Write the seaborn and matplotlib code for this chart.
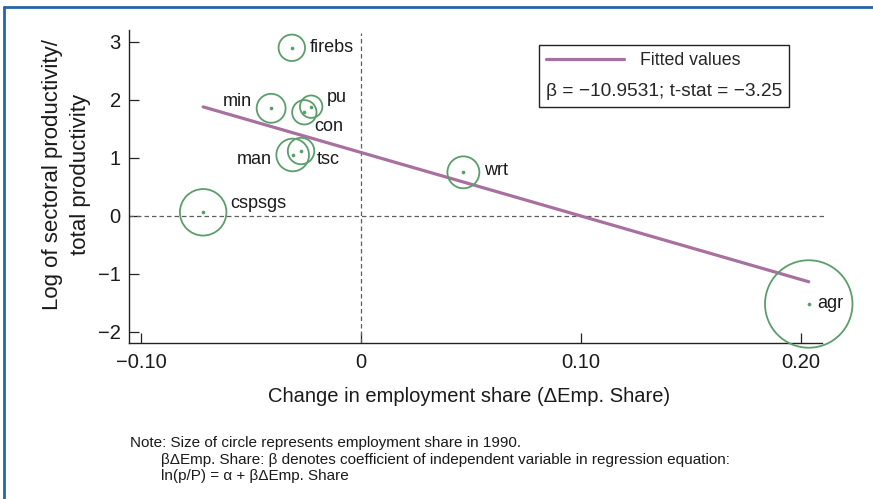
import numpy as np
import pandas as pd
import seaborn as sns
import matplotlib.pyplot as plt
from matplotlib.lines import Line2D

# sectors, change in employment share, log relative productivity, employment share 1990
sectors = ["firebs", "min", "pu", "con", "man", "tsc", "wrt", "cspsgs", "agr"]
d_emp_share = [-0.0315, -0.0409, -0.0227, -0.0258, -0.0311, -0.0273, 0.0465, -0.0718, 0.2035]
log_rel_prod = [2.90, 1.857, 1.885, 1.788, 1.052, 1.12, 0.753, 0.064, -1.517]
emp_share_1990 = [0.046, 0.055, 0.033, 0.039, 0.070, 0.046, 0.067, 0.142, 0.502]

beta = -10.9531
alpha = 1.095
t_stat = -3.25

xticks = [-0.10, 0, 0.10, 0.20]
xtick_labels = ["\u22120.10", "0", "0.10", "0.20"]
yticks = [-2, -1, 0, 1, 2, 3]
ytick_labels = ["\u22122", "\u22121", "0", "1", "2", "3"]

df = pd.DataFrame({"sector": sectors, "x": d_emp_share, "y": log_rel_prod, "share": emp_share_1990})

# label placement (offset points, alignment)
label_pos = {
    "firebs": (13, 0, "left"),
    "min": (-13.5, 5, "right"),
    "pu": (11, 6.8, "left"),
    "con": (7, -10, "left"),
    "man": (-15, -3, "right"),
    "tsc": (11.5, -6, "left"),
    "wrt": (15, 1, "left"),
    "cspsgs": (19.5, 6.5, "left"),
    "agr": (6, 0, "left"),
}

green = "#5b9e6b"
purple = "#a8709f"

sns.set_style("ticks")
plt.rcParams["font.family"] = ["Liberation Sans", "DejaVu Sans"]

fig = plt.figure(figsize=(8.73, 4.99), dpi=100)
ax = fig.add_axes([0.1478, 0.3126, 0.8, 0.6273])

# circle area proportional to employment share
K = 7900
sns.scatterplot(data=df, x="x", y="y", size="share",
                sizes=(K * df.share.min(), K * df.share.max()),
                color=green, edgecolor=green, facecolors="none",
                linewidth=1.3, legend=False, ax=ax, zorder=3, clip_on=False)
sns.scatterplot(data=df, x="x", y="y", s=7, color=green, linewidth=0,
                legend=False, ax=ax, zorder=4)

fit_x = np.array([df.x.min(), df.x.max()])
sns.lineplot(x=fit_x, y=alpha + beta * fit_x, color=purple, linewidth=2.3,
             label="Fitted values", ax=ax, zorder=2)

ax.axhline(0, color="#5e5e5e", lw=0.9, ls=(0, (3.6, 2.4)), zorder=1)
ax.axvline(0, color="#5e5e5e", lw=0.9, ls=(0, (3.6, 2.4)), ymax=0.99, zorder=1)

for _, r in df.iterrows():
    dx, dy, ha = label_pos[r.sector]
    ax.annotate(r.sector, (r.x, r.y), xytext=(dx, dy), textcoords="offset points",
                ha=ha, va="center", fontsize=13, color="#1a1a1a")

ax.set_xlim(-0.1055, 0.212)
ax.set_ylim(-2.19, 3.207)
ax.spines["bottom"].set_bounds(-0.1055, 0.2095)
sns.despine(ax=ax)
for s in ["left", "bottom"]:
    ax.spines[s].set_color("#222222")
    ax.spines[s].set_linewidth(1.0)

ax.set_xticks(xticks, xtick_labels)
ax.set_yticks(yticks, ytick_labels)
ax.tick_params(axis="both", direction="in", length=7, width=0.9, color="#222222",
               labelsize=14.5, labelcolor="#1a1a1a")
ax.tick_params(axis="x", pad=7)
ax.tick_params(axis="y", pad=6)

ax.set_xlabel("Change in employment share (\u0394Emp. Share)", fontsize=14.5, color="#1a1a1a")
ax.xaxis.set_label_coords(0.4875, -0.14)
ax.set_ylabel("Log of sectoral productivity/\ntotal productivity", fontsize=16,
              color="#1a1a1a", linespacing=1.4)
ax.yaxis.set_label_coords(-0.055, 0.537)

leg = ax.legend(loc="upper left", bbox_to_anchor=(0.587, 0.952), borderaxespad=0,
                fontsize=12.8,
                title=f"\u03b2 = \u221210.9531; t-stat = \u2212{abs(t_stat):.2f}",
                title_fontsize=13.8, alignment="left", fancybox=False,
                edgecolor="#222222", framealpha=1, handlelength=4.4,
                borderpad=0.4, labelspacing=0.8, handletextpad=0.9)
leg.get_frame().set_linewidth(1.0)
# put the beta line below the entry
leg._legend_box._children.reverse()

note_size = 11
fig.text(130 / 873, 1 - 447 / 499,
         "Note: Size of circle represents employment share in 1990.",
         fontsize=note_size, va="baseline", color="#1a1a1a")
fig.text(161 / 873, 1 - 464 / 499,
         "\u03b2\u0394Emp. Share: \u03b2 denotes coefficient of independent variable in regression equation:",
         fontsize=note_size, va="baseline", color="#1a1a1a")
fig.text(161 / 873, 1 - 480 / 499, "ln(p/P) = \u03b1 + \u03b2\u0394Emp. Share",
         fontsize=note_size, va="baseline", color="#1a1a1a")

# blue frame on the top and left edges
blue = "#2563ad"
fig.add_artist(Line2D([0.0046, 0.0046], [0, 0.986], transform=fig.transFigure, color=blue, lw=2))
fig.add_artist(Line2D([0.0046, 1], [0.986, 0.986], transform=fig.transFigure, color=blue, lw=2))

fig.savefig("out.png", dpi=100)
